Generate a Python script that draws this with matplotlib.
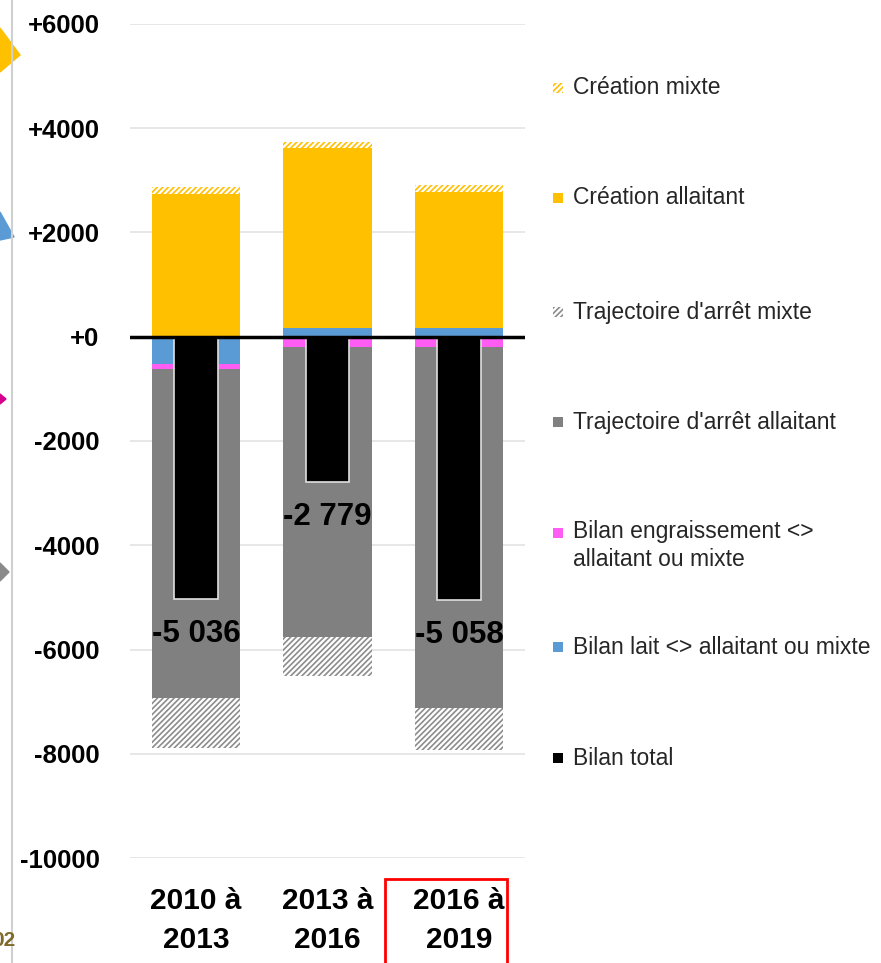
import matplotlib
matplotlib.use("Agg")
import matplotlib.pyplot as plt
from matplotlib.patches import Rectangle, Polygon
from matplotlib.lines import Line2D
import numpy as np

plt.rcParams['font.family'] = ['Liberation Sans', 'DejaVu Sans']
plt.rcParams['hatch.linewidth'] = 1.2

categories = ["2010 à\n2013", "2013 à\n2016", "2016 à\n2019"]
creation_mixte = [135, 120, 135]
creation_allaitant = [2740, 3455, 2610]
traj_mixte = [-960, -750, -810]
traj_allaitant = [-6320, -5560, -6920]
bilan_engraissement = [-90, -200, -200]
bilan_lait = [-520, 170, 170]
bilan_total = [-5036, -2779, -5058]
total_labels = ["-5 036", "-2 779", "-5 058"]
yticks = [6000, 4000, 2000, 0, -2000, -4000, -6000, -8000, -10000]
ytick_labels = ["+6000", "+4000", "+2000", "+0", "-2000", "-4000", "-6000", "-8000", "-10000"]

legend_labels = ["Création mixte", "Création allaitant", "Trajectoire d'arrêt mixte",
                 "Trajectoire d'arrêt allaitant", "Bilan engraissement <>\nallaitant ou mixte",
                 "Bilan lait <> allaitant ou mixte", "Bilan total"]

YELLOW = "#FFC000"
BLUE = "#5B9BD5"
PINK = "#FF5CF4"
GRAY = "#808080"
HGRAY = "#8c8c8c"

W, H = 881, 963
fig = plt.figure(figsize=(W / 100, H / 100), dpi=100)
ax = fig.add_axes([130 / W, 1 - 858 / H, (525 - 130) / W, (858 - 24) / H])

x = np.arange(len(categories))
bw = 0.67
pos_base = np.zeros(3)
neg_base = np.zeros(3)

def stack(vals, **kw):
    global pos_base, neg_base
    vals = np.array(vals, dtype=float)
    bottoms = np.where(vals >= 0, pos_base, neg_base)
    ax.bar(x, vals, bw, bottom=bottoms, zorder=2, **kw)
    pos_base = pos_base + np.where(vals >= 0, vals, 0)
    neg_base = neg_base + np.where(vals < 0, vals, 0)

stack(bilan_lait, color=BLUE, linewidth=0)
stack(bilan_engraissement, color=PINK, linewidth=0)
stack(creation_allaitant, color=YELLOW, linewidth=0)
stack(traj_allaitant, color=GRAY, linewidth=0)
stack(creation_mixte, facecolor="white", edgecolor=YELLOW, hatch="//////", linewidth=0)
stack(traj_mixte, facecolor="white", edgecolor=HGRAY, hatch="//////", linewidth=0)

ax.bar(x, bilan_total, 0.33, color="black", edgecolor="#e0e0e0", linewidth=1.2, zorder=3)

for xi, v, lab in zip(x, bilan_total, total_labels):
    ax.annotate(lab, (xi, v), xytext=(0, -35), textcoords="offset pixels",
                ha="center", va="center", fontsize=22.5, fontweight="bold", color="black", zorder=4)

ax.axhline(0, color="black", linewidth=2.5, zorder=3)
ax.set_ylim(-10000, 6000)
ax.set_xlim(-0.5, 2.5)
ax.set_yticks(yticks)
ax.set_yticklabels(ytick_labels, fontsize=18.5, fontweight="bold")
ax.set_xticks(x)
ax.set_xticklabels(categories, fontsize=21.5, fontweight="bold", linespacing=1.5)
ax.tick_params(axis="y", length=0, pad=22)
ax.tick_params(axis="x", length=0, pad=21)
ax.grid(axis="y", color="#e3e3e3", linewidth=1.2, zorder=0)
for s in ax.spines.values():
    s.set_visible(False)

# legend drawn manually
leg_y = [88, 198, 312, 422, 533, 647, 758]
leg_style = [
    dict(facecolor="white", edgecolor=YELLOW, hatch="//////", linewidth=0),
    dict(facecolor=YELLOW, edgecolor="none"),
    dict(facecolor="white", edgecolor=HGRAY, hatch="//////", linewidth=0),
    dict(facecolor=GRAY, edgecolor="none"),
    dict(facecolor=PINK, edgecolor="none"),
    dict(facecolor=BLUE, edgecolor="none"),
    dict(facecolor="black", edgecolor="none"),
]
for yy, lab, st in zip(leg_y, legend_labels, leg_style):
    fig.add_artist(Rectangle((553 / W, 1 - (yy + 5) / H), 10 / W, 10 / H, transform=fig.transFigure, **st))
    if "\n" in lab:
        fig.text(573 / W, 1 - (yy - 13) / H, lab, fontsize=16.5, color="#262626", ha="left",
                 va="top", linespacing=1.3)
    else:
        fig.text(573 / W, 1 - yy / H, lab, fontsize=16.5, color="#262626", ha="left", va="center")

# red highlight box around last category
fig.add_artist(Rectangle((385 / W, 1 - 965 / H), (507 - 385) / W, (965 - 879) / H,
                         transform=fig.transFigure, fill=False, edgecolor="red", linewidth=2))

# cropped-image artifacts at the left edge
fig.add_artist(Line2D([12 / W, 12 / W], [0, 1], transform=fig.transFigure, color="#d0d0d0", linewidth=1.5))
fig.add_artist(Polygon([[0, 1 - 28 / H], [20 / W, 1 - 55 / H], [0, 1 - 72 / H]], closed=True,
                       transform=fig.transFigure, color=YELLOW))
fig.add_artist(Polygon([[0, 1 - 212 / H], [14 / W, 1 - 237 / H], [0, 1 - 240 / H]], closed=True,
                       transform=fig.transFigure, color=BLUE))
fig.add_artist(Polygon([[0, 1 - 394 / H], [6 / W, 1 - 399 / H], [0, 1 - 404 / H]], closed=True,
                       transform=fig.transFigure, color="#d6008f"))
fig.add_artist(Polygon([[0, 1 - 563 / H], [9 / W, 1 - 572 / H], [0, 1 - 581 / H]], closed=True,
                       transform=fig.transFigure, color="#8a8a8a"))
fig.text(-8 / W, 1 - 940 / H, "02", fontsize=15, fontweight="bold", color="#7f6a2a", va="center")

fig.savefig("out.png", dpi=100)
